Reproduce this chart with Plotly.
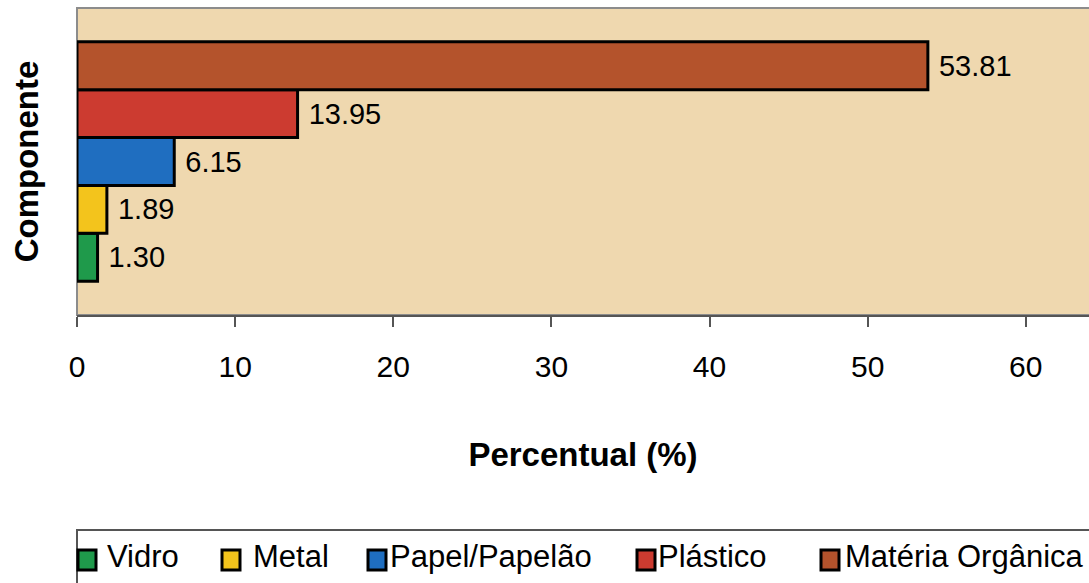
import plotly.graph_objects as go

# Composição gravimétrica dos resíduos
componentes = ["Vidro", "Metal", "Papel/Papelão", "Plástico", "Matéria Orgânica"]
percentuais = [1.30, 1.89, 6.15, 13.95, 53.81]
cores = ["#1F9A4B", "#F3C41C", "#1F6EC0", "#CC3B30", "#B4532C"]
ticks_x = [0, 10, 20, 30, 40, 50, 60]

W, H = 1089, 583
L, R, T, B = 77, 0, 8, 268
plot_w = W - L - R
plot_h = H - T - B

FONT = "Liberation Sans, Arial, sans-serif"
grupo = "Resíduos"

fig = go.Figure()
for nome, valor, cor in zip(componentes, percentuais, cores):
    fig.add_trace(go.Bar(
        y=[grupo], x=[valor], name=nome, orientation="h",
        marker=dict(color=cor, line=dict(color="black", width=3)),
        texttemplate="\u00a0%{x:.2f}", textposition="outside",
        textfont=dict(family=FONT, size=29, color="black"),
        cliponaxis=False, showlegend=False,
    ))


def px_x(x):
    return (x - L) / plot_w


def px_y(y):
    return (H - B - y) / plot_h


# legend drawn below the plot: frame, colour squares and names
leg_sq_left = [78, 222, 368, 637, 821]
leg_txt_left = [105, 251, 388, 656, 843]
leg_y = 560
sq = 18

shapes = [
    # plot frame
    dict(type="rect", xref="paper", yref="paper", x0=0, x1=1.05, y0=0, y1=1,
         line=dict(color="#8C8C8C", width=2), layer="below"),
    # legend box
    dict(type="rect", xref="paper", yref="paper",
         x0=px_x(77), x1=px_x(1100), y0=px_y(530), y1=px_y(600),
         line=dict(color="#555555", width=2), fillcolor="white", layer="above"),
]
annotations = []
for nome, cor, xs, xt in zip(componentes, cores, leg_sq_left, leg_txt_left):
    shapes.append(dict(
        type="rect", xref="paper", yref="paper",
        x0=px_x(xs), x1=px_x(xs + sq), y0=px_y(leg_y - sq / 2 - 1), y1=px_y(leg_y + sq / 2 + 1),
        fillcolor=cor, line=dict(color="black", width=3), layer="above",
    ))
    annotations.append(dict(
        xref="paper", yref="paper", x=px_x(xt), y=px_y(leg_y - 4),
        xanchor="left", yanchor="middle", showarrow=False, text=nome,
        font=dict(family=FONT, size=31, color="black"),
    ))

fig.update_layout(
    width=W, height=H,
    margin=dict(l=L, r=R, t=T, b=B, pad=0),
    paper_bgcolor="white",
    plot_bgcolor="#EFD8AF",
    barmode="group", bargap=0.22, bargroupgap=0,
    font=dict(family=FONT, color="black"),
    xaxis=dict(
        range=[0, 64], tickvals=ticks_x, ticktext=[str(t) for t in ticks_x],
        showgrid=False, zeroline=False,
        showline=True, linecolor="#555555", linewidth=2,
        ticks="outside", ticklen=10, tickwidth=2, tickcolor="#555555",
        ticklabelstandoff=14,
        tickfont=dict(family=FONT, size=30, color="black"),
        title=dict(text="<b>Percentual (%)</b>", standoff=61,
                   font=dict(family=FONT, size=33, color="black")),
        automargin=False,
    ),
    yaxis=dict(
        type="category", range=[-0.5, 0.5],
        showticklabels=False, showgrid=False, zeroline=False, ticks="",
        title=dict(text="<b>Componente</b>", standoff=27,
                   font=dict(family=FONT, size=33, color="black")),
        automargin=False,
    ),
    shapes=shapes,
    annotations=annotations,
    showlegend=False,
)

fig.write_html("out.html")
